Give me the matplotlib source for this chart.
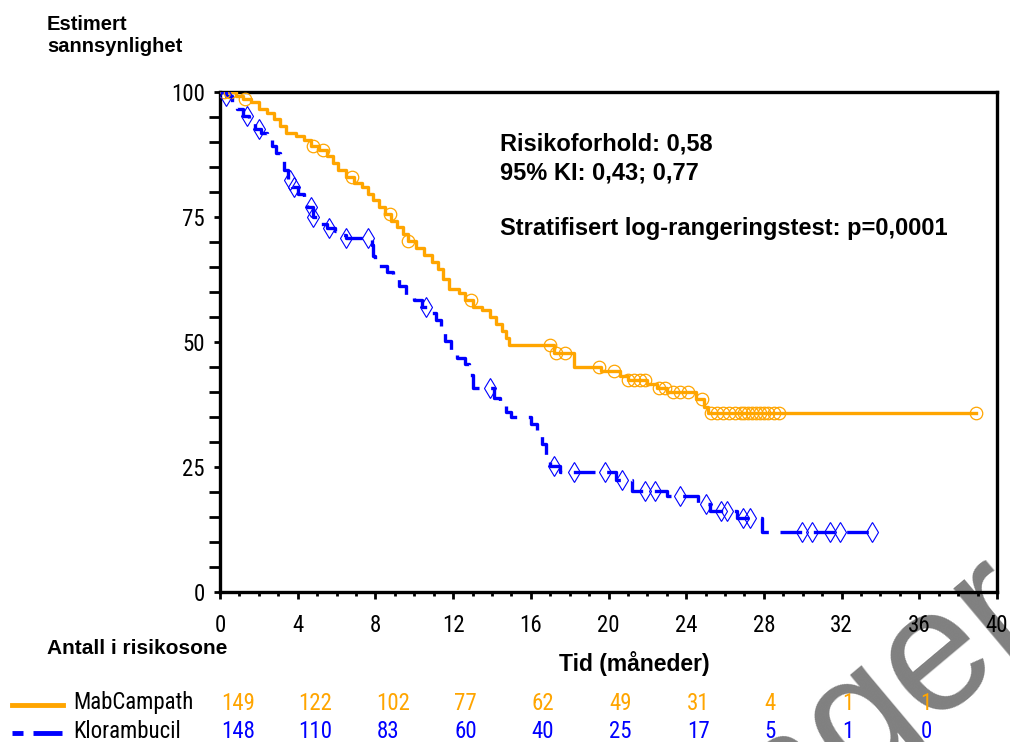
import numpy as np
import matplotlib
matplotlib.use("Agg")
import matplotlib.pyplot as plt
from matplotlib import font_manager
from matplotlib.lines import Line2D
from matplotlib.transforms import blended_transform_factory

# MabCampath (orange) step times / survival after each step
mab_t = [0, 0.8, 1.2, 1.6, 2.0, 2.4, 2.8, 3.1, 3.4, 3.9, 4.3, 4.7, 5.1, 5.5, 5.8, 6.1,
         6.5, 6.9, 7.3, 7.6, 7.9, 8.2, 8.5, 8.8, 9.1, 9.4, 9.7, 10.1, 10.5, 10.9, 11.2,
         11.5, 11.8, 12.3, 12.6, 13.0, 13.5, 13.9, 14.2, 14.5, 14.7, 14.9, 17.2, 18.2,
         19.6, 20.6, 21.0, 22.0, 22.5, 23.0, 24.5, 24.9, 25.1]
mab_s = [100, 99.3, 98.6, 98.0, 96.6, 95.9, 94.6, 93.2, 91.9, 91.2, 90.5, 89.2, 88.5,
         87.2, 85.8, 84.5, 83.1, 81.8, 81.1, 79.7, 78.4, 77.0, 75.7, 74.3, 73.0, 71.6,
         70.2, 68.9, 67.5, 66.1, 64.7, 62.6, 60.6, 59.9, 58.5, 57.1, 56.4, 55.0, 53.6,
         52.2, 50.8, 49.4, 47.8, 45.0, 44.2, 43.3, 42.5, 41.7, 40.9, 40.0, 38.6, 37.1, 35.8]
mab_end = 38.9
mab_cens = [0.2, 0.5, 1.3, 4.8, 5.3, 6.8, 8.75, 9.7, 12.9, 17.0, 17.3, 17.75, 19.5,
            20.3, 21.0, 21.3, 21.6, 21.9, 22.6, 22.9, 23.3, 23.7, 24.1, 24.8, 25.3, 25.6,
            25.9, 26.2, 26.5, 26.8, 27.0, 27.2, 27.4, 27.6, 27.8, 28.0, 28.2, 28.5, 28.8,
            38.9]

# Klorambucil (blue)
klo_t = [0, 0.3, 0.6, 0.9, 1.2, 1.5, 1.8, 2.1, 2.4, 2.7, 2.9, 3.1, 3.3, 3.5, 3.7, 4.0,
         4.3, 4.5, 4.8, 5.0, 5.5, 5.9, 6.2, 6.5, 7.8, 7.9, 8.0, 8.6, 8.9, 9.2, 9.6, 10.0,
         10.4, 10.7, 11.1, 11.4, 11.6, 11.9, 12.2, 12.6, 12.8, 13.0, 14.1, 14.4, 14.7,
         15.0, 16.0, 16.3, 16.6, 16.8, 17.0, 17.5, 20.4, 21.2, 23.0, 24.6, 25.2, 26.6, 27.9]
klo_s = [100, 99.3, 98.0, 96.6, 95.3, 94.0, 92.6, 91.9, 90.5, 89.2, 87.8, 86.5, 84.5,
         82.4, 81.1, 79.7, 78.4, 77.0, 75.0, 73.6, 72.9, 72.2, 71.5, 70.8, 69.4, 67.3,
         65.3, 64.0, 62.6, 61.2, 59.2, 58.5, 57.1, 55.8, 54.4, 52.4, 50.3, 48.3, 46.9,
         45.6, 43.5, 40.8, 38.8, 37.4, 36.1, 35.0, 33.7, 31.6, 29.6, 27.2, 25.2, 24.0,
         22.5, 20.2, 19.2, 17.7, 16.2, 14.8, 12.0]
klo_end = 33.55
klo_cens = [0.3, 1.4, 2.0, 3.6, 3.8, 4.7, 4.8, 5.6, 6.5, 7.6, 10.6, 13.9, 17.2, 18.2,
            19.8, 20.7, 21.9, 22.4, 23.7, 25.0, 25.8, 26.1, 26.9, 27.3, 29.95, 30.5,
            31.4, 31.9, 33.55]

risk_times = [0, 4, 8, 12, 16, 20, 24, 28, 32, 36]
risk_mab = [149, 122, 102, 77, 62, 49, 31, 4, 1, 1]
risk_klo = [148, 110, 83, 60, 40, 25, 17, 5, 1, 0]

ORANGE = "#FFA500"
BLUE = "#0000FF"
BOLD = ["Liberation Sans", "DejaVu Sans"]

# narrow font for the numbers, if one is installed
names = {f.name for f in font_manager.fontManager.ttflist}
narrow = None
for cand in ["Liberation Sans Narrow", "Arial Narrow", "Roboto Condensed",
             "Open Sans Condensed", "Noto Sans Condensed"]:
    if cand in names:
        narrow = cand
        break
if narrow:
    NUM = dict(family=[narrow, "DejaVu Sans"], fontsize=16.5)
elif any(f.name == "DejaVu Sans" and f.stretch == "condensed"
         for f in font_manager.fontManager.ttflist):
    NUM = dict(family=["DejaVu Sans"], fontstretch="condensed", fontsize=15)
else:
    NUM = dict(family=["Liberation Sans", "DejaVu Sans"], fontsize=15)


def step_at(t, ts, ss):
    i = np.searchsorted(ts, t, side="right") - 1
    return np.asarray(ss)[i]


fig = plt.figure(figsize=(10.10, 7.42), dpi=100)
ax = fig.add_axes([220 / 1010, 1 - 592 / 742, 777 / 1010, 500 / 742])
ax.patch.set_visible(False)

# watermark
fig.text(0.800, -0.040, "Legemidlet er ikke lenger autorisert for salg", fontsize=125,
         color="#808080", rotation=40, ha="center", va="center",
         rotation_mode="anchor", family=BOLD, zorder=-1)

# curves
ax.step(mab_t + [mab_end], mab_s + [mab_s[-1]], where="post", color=ORANGE, lw=2.4,
        zorder=3)
ax.plot(mab_cens, [step_at(t, mab_t, mab_s) for t in mab_cens], "o", ms=9,
        mfc="none", mec=ORANGE, mew=0.9, zorder=4)
ax.step(klo_t + [klo_end], klo_s + [klo_s[-1]], where="post", color=BLUE, lw=2.4,
        ls=(0, (6.5, 3.5)), zorder=3)
ax.plot(klo_cens, [step_at(t, klo_t, klo_s) for t in klo_cens], "d", ms=10,
        mfc="none", mec=BLUE, mew=0.8, zorder=4)

ax.set_xlim(0, 40)
ax.set_ylim(0, 100)
ax.set_xticks(range(0, 41, 4))
ax.set_xticks(range(0, 41), minor=True)
ax.set_yticks([0, 25, 50, 75, 100])
ax.set_yticks(range(0, 101, 5), minor=True)
for s in ax.spines.values():
    s.set_linewidth(2.4)
ax.tick_params(axis="x", which="major", length=5, width=2, pad=11)
ax.tick_params(axis="x", which="minor", length=3, width=2)
ax.tick_params(axis="y", which="major", length=4, width=2, pad=7)
ax.tick_params(axis="y", which="minor", length=8, width=2)
for lab in ax.get_xticklabels() + ax.get_yticklabels():
    lab.set(**NUM)

bold = dict(fontweight="bold", family=BOLD)
ax.text(0.361, 0.895, "Risikoforhold: 0,58", transform=ax.transAxes, fontsize=17,
        va="center", **bold)
ax.text(0.361, 0.838, "95% KI: 0,43; 0,77", transform=ax.transAxes, fontsize=17,
        va="center", **bold)
ax.text(0.361, 0.727, "Stratifisert log-rangeringstest: p=0,0001", transform=ax.transAxes,
        fontsize=17, va="center", **bold)

fig.text(47 / 1010, 1 - 35 / 742, "Estimert\nsannsynlighet", fontsize=14.5,
         va="center", linespacing=1.2, **bold)
fig.text(634 / 1010, 1 - 663 / 742, "Tid (måneder)", fontsize=16.5, ha="center",
         va="center", **bold)
fig.text(47 / 1010, 1 - 648 / 742, "Antall i risikosone", fontsize=15, va="center",
         **bold)

# number at risk table
tr = blended_transform_factory(ax.transData, fig.transFigure)
y_mab = 1 - 703 / 742
y_klo = 1 - 731 / 742
for t, a, b in zip(risk_times, risk_mab, risk_klo):
    ax.text(t + 0.05, y_mab, str(a), transform=tr, color=ORANGE, va="center",
            ha="left", clip_on=False, **NUM)
    ax.text(t + 0.05, y_klo, str(b), transform=tr, color=BLUE, va="center",
            ha="left", clip_on=False, **NUM)

fig.add_artist(Line2D([12 / 1010, 63 / 1010], [1 - 705 / 742] * 2, color=ORANGE,
                      lw=3.5, transform=fig.transFigure))
for x0, x1 in [(12, 23), (33, 62)]:
    fig.add_artist(Line2D([x0 / 1010, x1 / 1010], [1 - 733 / 742] * 2, color=BLUE,
                          lw=3.5, solid_capstyle="butt", transform=fig.transFigure))
fig.text(73 / 1010, y_mab, "MabCampath", va="center", **NUM)
fig.text(73 / 1010, y_klo, "Klorambucil", va="center", **NUM)

fig.savefig("out.png", dpi=100)
